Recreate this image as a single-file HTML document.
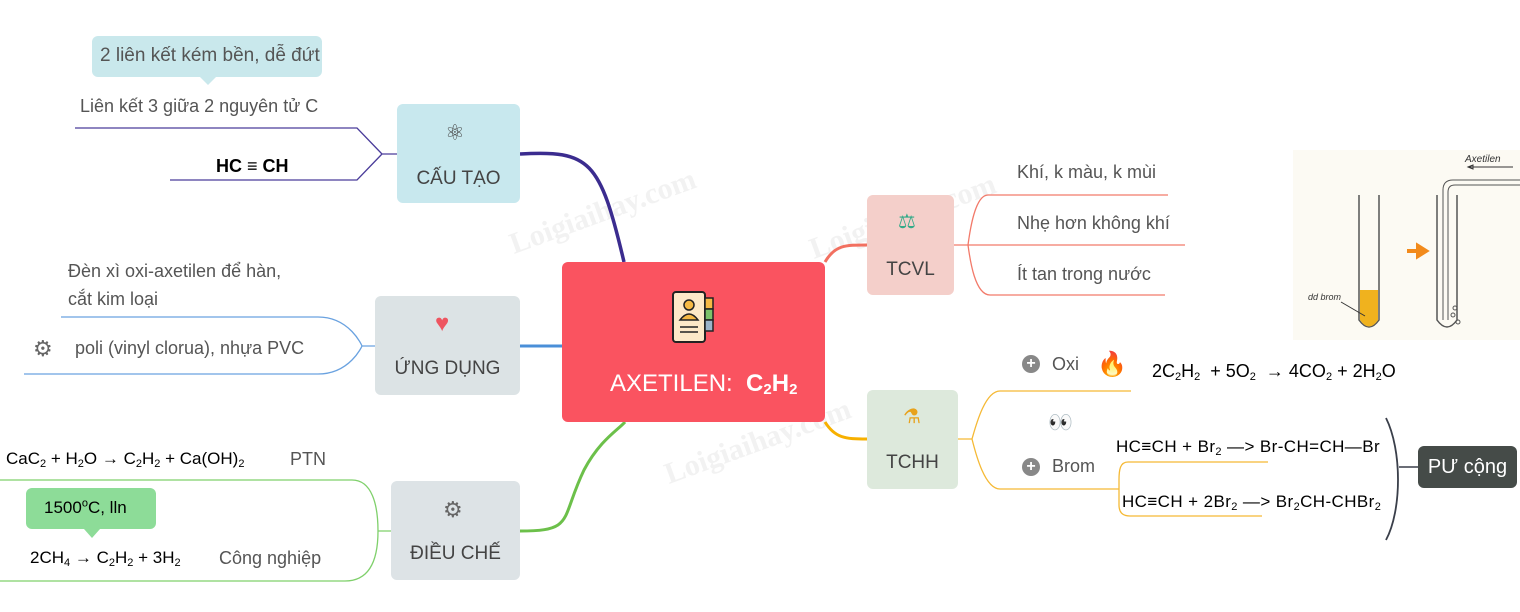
<!DOCTYPE html>
<html><head><meta charset="utf-8">
<style>
body{margin:0;width:1520px;height:612px;background:#fff;position:relative;overflow:hidden;font-family:"Liberation Sans","DejaVu Sans",sans-serif;}
.a{position:absolute;white-space:nowrap;}
.node{position:absolute;border-radius:6px;}
.g{color:#555;font-size:18px;}
.k{color:#000;font-size:17px;}
sub{font-size:11px;vertical-align:-3px;line-height:0;}
sup{font-size:11px;line-height:0;}
.lbl{position:absolute;left:0;right:0;text-align:center;color:#444;font-size:19px;}
.wm{position:absolute;color:#f2f2f2;font-family:"Liberation Serif",serif;font-weight:bold;font-size:30px;transform:rotate(-20deg);white-space:nowrap;}
</style></head><body>
<div class="wm" style="left:505px;top:195px">Loigiaihay.com</div>
<div class="wm" style="left:805px;top:200px">Loigiaihay.com</div>
<div class="wm" style="left:660px;top:425px">Loigiaihay.com</div>

<svg class="a" style="left:0;top:0" width="1520" height="612">
<g fill="none" stroke-width="1.3">
 <path d="M520,154 C590,150 600,160 624,262" stroke="#3b2c8f" stroke-width="3.5"/>
 <path d="M75,128 H357 L382,154 L357,180 H170 M382,154 H397" stroke="#4a3c9a"/>
 <path d="M520,346 H562" stroke="#4a8fd8" stroke-width="3"/>
 <path d="M61,317 H318 C350,317 362,346 362,346 C362,346 350,374 318,374 H24 M362,346 H375" stroke="#6aa2e0"/>
 <path d="M520,531 C575,531 560,520 584,470 C600,440 618,430 625,422" stroke="#6cc04a" stroke-width="3"/>
 <path d="M0,480 H352 C372,480 378,505 378,531 C378,556 372,581 345,581 H0 M378,531 H391" stroke="#7fd06b"/>
 <path d="M825,262 C835,245 845,245 867,245" stroke="#f27060" stroke-width="3"/>
 <path d="M954,245 H968 M1168,195 H988 C975,195 970,230 968,245 C970,260 975,295 990,295 H1165 M968,245 H1185" stroke="#f27a6a"/>
 <path d="M825,422 C835,438 845,439 867,439" stroke="#f7b000" stroke-width="3"/>
 <path d="M958,439 H972 M1131,391 H1000 C985,391 976,425 972,439 C976,455 985,489 1000,489 H1119 M1268,462 H1128 C1120,462 1119,470 1119,480 V505 C1119,512 1122,516 1130,516 H1262" stroke="#f5b935"/>
 <path d="M1386,418 C1402,450 1402,510 1386,540" stroke="#3a3f4a" stroke-width="1.8"/>
 <path d="M1399,467 H1418" stroke="#3a3f4a" stroke-width="1.5"/>
</g>
<polygon points="200,77 216,77 208,85" fill="#c9e8ec"/>
<polygon points="84,529 100,529 92,538" fill="#8ddc98"/>
</svg>

<div class="node" style="left:562px;top:262px;width:263px;height:160px;background:#fa5360;"></div>
<svg class="a" style="left:671px;top:290px" width="50" height="56">
 <rect x="2" y="2" width="32" height="50" rx="3" fill="#fde9c8" stroke="#222" stroke-width="2"/>
 <rect x="34" y="8" width="8" height="11" fill="#f5b945" stroke="#222" stroke-width="1.5"/>
 <rect x="34" y="19" width="8" height="11" fill="#7cc26a" stroke="#222" stroke-width="1.5"/>
 <rect x="34" y="30" width="8" height="11" fill="#9bb3c9" stroke="#222" stroke-width="1.5"/>
 <circle cx="18" cy="15" r="5" fill="#f5b945" stroke="#222" stroke-width="1.5"/>
 <path d="M9,30 Q18,18 27,30 Z" fill="#f5b945" stroke="#222" stroke-width="1.5"/>
 <path d="M9,37 H27 M9,42 H27" stroke="#222" stroke-width="1.5"/>
</svg>
<div class="a" style="left:610px;top:370px;color:#fff;font-size:24px;">AXETILEN:&nbsp; <b>C<sub style="font-size:15px">2</sub>H<sub style="font-size:15px">2</sub></b></div>

<div class="node" style="left:397px;top:104px;width:123px;height:99px;background:#c8e8ee;"><div class="a" style="left:48px;top:16px;font-size:22px;color:#444">⚛</div><div class="lbl" style="top:64px">CẤU TẠO</div></div>
<div class="a" style="left:92px;top:36px;width:230px;height:41px;background:#c9e8ec;border-radius:6px;"></div>
<div class="a g" style="left:100px;top:45px;font-size:19px;">2 liên kết kém bền, dễ đứt</div>
<div class="a g" style="left:80px;top:96px;">Liên kết 3 giữa 2 nguyên tử C</div>
<div class="a" style="left:216px;top:156px;font-size:18px;font-weight:bold;color:#000">HC ≡ CH</div>

<div class="node" style="left:375px;top:296px;width:145px;height:99px;background:#dce3e5;"><div class="a" style="left:60px;top:14px;font-size:24px;color:#ee5560">♥</div><div class="lbl" style="top:62px">ỨNG DỤNG</div></div>
<div class="a g" style="left:68px;top:257px;line-height:28px;">Đèn xì oxi-axetilen để hàn,<br>cắt kim loại</div>
<div class="a" style="left:33px;top:336px;font-size:22px;color:#666">⚙</div>
<div class="a g" style="left:75px;top:338px;">poli (vinyl clorua), nhựa PVC</div>

<div class="node" style="left:391px;top:481px;width:129px;height:99px;background:#dde3e6;"><div class="a" style="left:52px;top:16px;font-size:22px;color:#666">⚙</div><div class="lbl" style="top:62px">ĐIỀU CHẾ</div></div>
<div class="a k" style="left:6px;top:449px;">CaC<sub>2</sub> + H<sub>2</sub>O → C<sub>2</sub>H<sub>2</sub> + Ca(OH)<sub>2</sub></div>
<div class="a g" style="left:290px;top:449px;">PTN</div>
<div class="a" style="left:26px;top:488px;width:130px;height:41px;background:#8ddc98;border-radius:6px;"></div>
<div class="a k" style="left:44px;top:498px;">1500<sup>o</sup>C, lln</div>
<div class="a k" style="left:30px;top:548px;">2CH<sub>4</sub> → C<sub>2</sub>H<sub>2</sub> + 3H<sub>2</sub></div>
<div class="a g" style="left:219px;top:548px;">Công nghiệp</div>

<div class="node" style="left:867px;top:195px;width:87px;height:100px;background:#f4cfca;"><div class="a" style="left:31px;top:14px;font-size:20px;color:#3a8">⚖</div><div class="lbl" style="top:64px">TCVL</div></div>
<div class="a g" style="left:1017px;top:162px;">Khí, k màu, k mùi</div>
<div class="a g" style="left:1017px;top:213px;">Nhẹ hơn không khí</div>
<div class="a g" style="left:1017px;top:264px;">Ít tan trong nước</div>

<div class="node" style="left:867px;top:390px;width:91px;height:99px;background:#dde9dc;"><div class="a" style="left:36px;top:14px;font-size:20px;color:#e8a21c">⚗</div><div class="lbl" style="top:62px">TCHH</div></div>
<div class="a" style="left:1022px;top:355px;width:18px;height:18px;border-radius:50%;background:#888;color:#fff;font-size:16px;line-height:18px;text-align:center;font-weight:bold">+</div>
<div class="a g" style="left:1052px;top:354px;">Oxi</div>
<div class="a" style="left:1097px;top:350px;font-size:24px;color:#f5a623">🔥</div>
<div class="a" style="left:1152px;top:361px;font-size:18px;color:#000">2C<sub>2</sub>H<sub>2</sub>&nbsp; + 5O<sub>2</sub>&nbsp; → 4CO<sub>2</sub> + 2H<sub>2</sub>O</div>
<div class="a" style="left:1048px;top:410px;font-size:20px;color:#333">👀</div>
<div class="a" style="left:1022px;top:458px;width:18px;height:18px;border-radius:50%;background:#888;color:#fff;font-size:16px;line-height:18px;text-align:center;font-weight:bold">+</div>
<div class="a g" style="left:1052px;top:456px;">Brom</div>
<div class="a" style="left:1116px;top:437px;font-size:17px;color:#000;letter-spacing:0.4px">HC≡CH + Br<sub>2</sub> —&gt; Br-CH=CH—Br</div>
<div class="a" style="left:1122px;top:492px;font-size:17px;color:#000;letter-spacing:0.4px">HC≡CH + 2Br<sub>2</sub> —&gt; Br<sub>2</sub>CH-CHBr<sub>2</sub></div>
<div class="a" style="left:1418px;top:446px;width:99px;height:42px;background:#454b48;border-radius:6px;color:#fff;font-size:20px;line-height:42px;text-align:center;">PƯ cộng</div>

<svg class="a" style="left:1293px;top:150px" width="227" height="190">
 <rect width="227" height="190" fill="#fcfaf3"/>
 <text x="172" y="12" font-size="10" font-style="italic" fill="#333" font-family="Liberation Sans">Axetilen</text>
 <path d="M175,17 H220 M175,17 l5,-2 v4 z" stroke="#333" fill="none"/>
 <path d="M66,45 V170 Q76,184 86,170 V45" stroke="#555" fill="none" stroke-width="1.5"/>
 <path d="M67,140 H85 V170 Q76,183 67,170 Z" fill="#f0b21e"/>
 <text x="15" y="150" font-size="9" font-style="italic" fill="#333" font-family="Liberation Sans">dd brom</text>
 <path d="M48,152 L72,166" stroke="#333"/>
 <path d="M114,101 H131 M125,96 L133,101 L125,106 Z" stroke="#f28a1b" stroke-width="4" fill="#f28a1b"/>
 <path d="M144,45 V170 Q154,184 164,170 V45" stroke="#555" fill="none" stroke-width="1.5"/>
 <path d="M150,170 V40 Q150,30 160,30 H227 M155,170 V42 Q155,35 162,35 H227" stroke="#555" fill="none"/>
 <circle cx="160" cy="165" r="2" fill="none" stroke="#555"/><circle cx="165" cy="172" r="2" fill="none" stroke="#555"/><circle cx="162" cy="158" r="2" fill="none" stroke="#555"/>
</svg>
</body></html>
